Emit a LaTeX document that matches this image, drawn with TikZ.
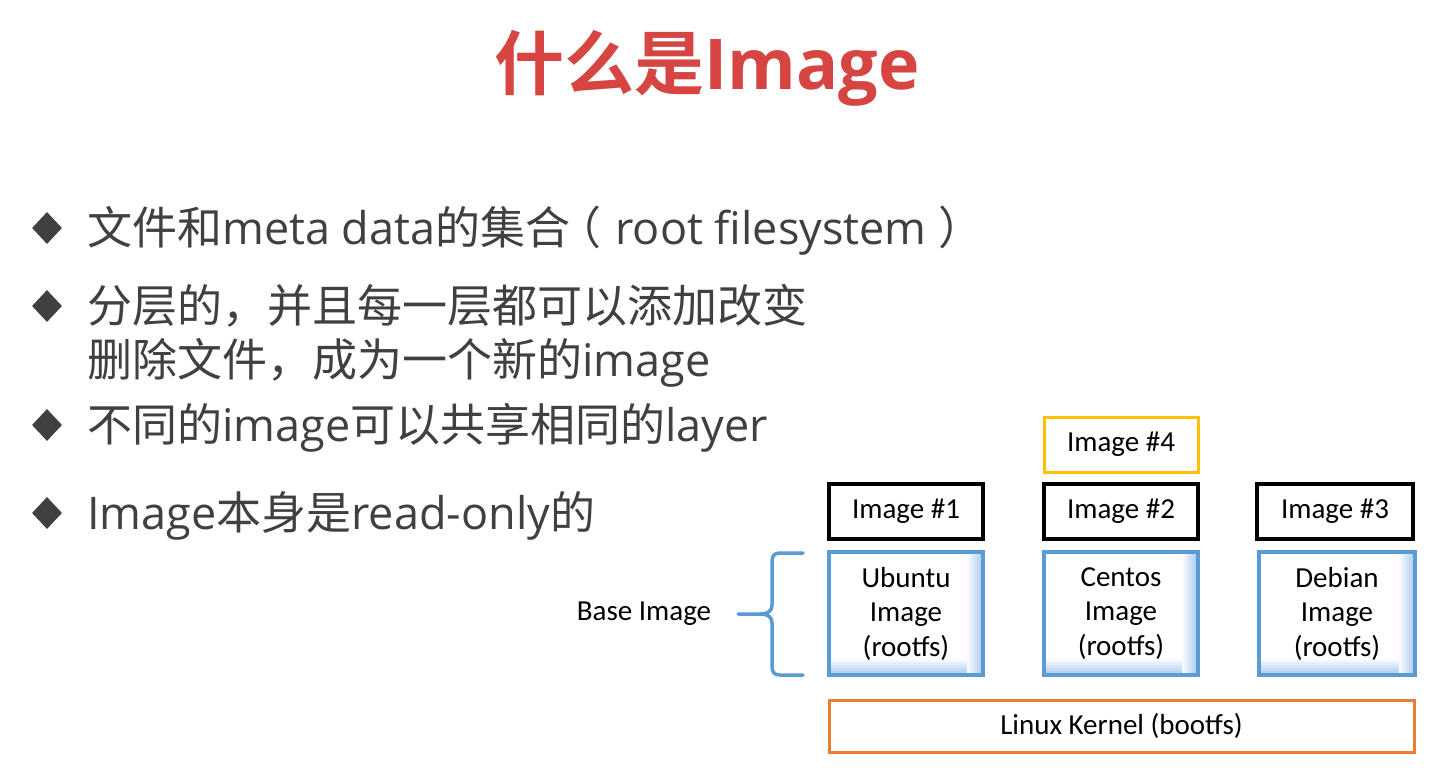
\documentclass[tikz,border=0pt]{standalone}
\usepackage{fontspec}
\setmainfont{Carlito}
\newfontfamily\cjk{Noto Sans CJK SC}
\newfontfamily\cjkb{Noto Sans CJK SC Bold}
\newfontfamily\opensans{Open Sans}
\newfontfamily\opensansb{Open Sans Bold}
\newcommand\en[1]{{\opensans #1}}
\usetikzlibrary{shapes.geometric}
\definecolor{titlered}{RGB}{214,69,65}
\definecolor{txtgray}{RGB}{64,64,64}
\definecolor{bluebd}{RGB}{91,155,213}
\definecolor{glow}{RGB}{175,205,238}
\definecolor{yel}{RGB}{255,192,0}
\definecolor{org}{RGB}{237,125,49}
\tikzset{
  bullet/.style={diamond, fill=txtgray, inner sep=0pt, minimum width=30pt, minimum height=32pt},
  btext/.style={anchor=base west, inner sep=0pt, text=txtgray, font=\cjk\fontsize{45}{54}\selectfont},
  boxfont/.style={font=\fontsize{29}{34.5}\selectfont},
  imgbox/.style={draw=black, line width=3.5pt, minimum width=154pt, minimum height=55pt, inner sep=0pt, boxfont},
  basebox/.style={draw=bluebd, line width=3.5pt, minimum width=154pt, minimum height=123pt, inner sep=0pt, align=center,
    boxfont,
    path picture={
      \foreach \i in {0,...,7} {
        \pgfmathsetmacro\p{100-\i*13}
        \fill[glow!\p!white] ([xshift=-\i*2pt-2pt]path picture bounding box.north east) rectangle ([xshift=-\i*2pt]path picture bounding box.south east);
        \fill[glow!\p!white] ([yshift=\i*2pt+2pt]path picture bounding box.south west) rectangle ([yshift=\i*2pt,xshift=-\i*2pt-2pt]path picture bounding box.south east);
      }
    }},
}
\begin{document}
\begin{tikzpicture}[x=1pt,y=-1pt]
\path[use as bounding box, fill=white] (0,0) rectangle (1447,781);
% title
\node[text=titlered, font=\cjkb\fontsize{70}{80}\selectfont, inner sep=0pt] (title) at (707,68) {什么是{\opensansb Image}};
% bullets
\node[bullet] (d1) at (47,228) {};
\node[bullet] (d2) at (47,306) {};
\node[bullet] (d3) at (47,425) {};
\node[bullet] (d4) at (47,513) {};
\node[btext] (t1) at (87,244) {文件和\en{meta data}的集合\kern-14pt（\kern14pt\en{root filesystem }）};
\node[btext] (t2) at (87,322) {分层的，并且每一层都可以添加改变};
\node[btext] (t2b) at (87,376) {删除文件，成为一个新的\en{image}};
\node[btext] (t3) at (87,441) {不同的\en{image}可以共享相同的\en{layer}};
\node[btext] (t4) at (87,529) {\en{Image}本身是\en{read-only}的};
% boxes
\node[imgbox, draw=yel, line width=3pt] (i4) at (1121,444.5) {Image \#4};
\node[imgbox] (i1) at (906,511.5) {Image \#1};
\node[imgbox] (i2) at (1121,511.5) {Image \#2};
\node[imgbox, minimum width=156pt] (i3) at (1335,511.5) {Image \#3};
\node[basebox] (ub) at (906,613.5) {Ubuntu\\Image\\(rootfs)};
\node[basebox] (ce) at (1121,613.5) {Centos\\Image\\(rootfs)};
\node[basebox, minimum width=156pt] (de) at (1337,613.5) {Debian\\Image\\(rootfs)};
\node[draw=org, line width=3pt, minimum width=585pt, minimum height=52pt, inner sep=0pt, boxfont] (k) at (1121.5,726) {Linux Kernel (bootfs)};
% brace
\node[inner sep=0pt, boxfont] (base) at (644,614) {Base Image};
\draw[bluebd, line width=3.5pt, line cap=round, line join=round]
  (803,553) -- (780,553) .. controls (774,553) and (772,556) .. (772,562) -- (772,605)
  .. controls (772,611) and (768,614) .. (760,614) -- (738,614);
\draw[bluebd, line width=3.5pt, line cap=round, line join=round]
  (760,614) .. controls (768,614) and (772,617) .. (772,623) -- (772,666)
  .. controls (772,672) and (774,675) .. (780,675) -- (803,675);
\end{tikzpicture}
\end{document}
